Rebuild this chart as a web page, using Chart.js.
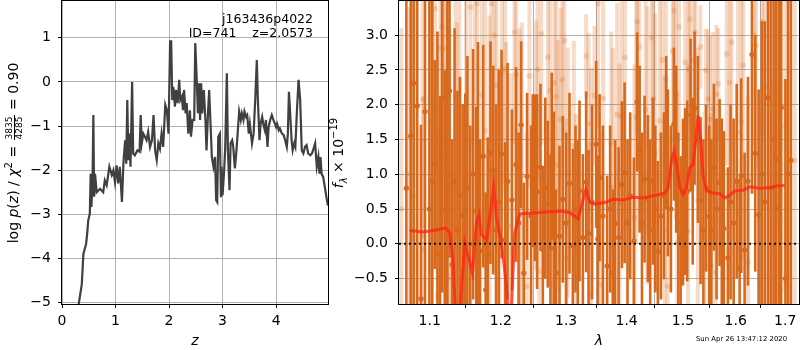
<!DOCTYPE html>
<html><head><meta charset="utf-8">
<script src="https://cdn.jsdelivr.net/npm/chart.js"></script>
<style>
html,body{margin:0;padding:0;background:#fff;}
#wrap{position:relative;width:800px;height:350px;overflow:hidden;font-family:"DejaVu Sans",sans-serif;color:#000;}
canvas{position:absolute;top:0;}
.t{position:absolute;white-space:pre;line-height:1;}
.rbox{position:absolute;width:300px;height:20px;line-height:20px;text-align:center;white-space:pre;transform:rotate(-90deg);transform-origin:150px 10px;}
.ctr{transform:translate(-50%,-50%);}
.frac{display:inline-flex;flex-direction:column;align-items:center;vertical-align:middle;font-size:9px;line-height:1;margin:0 1px;}
.frac span:first-child{border-bottom:1px solid #000;padding:0 1px;}
sub,sup{font-size:10px;line-height:0;}
</style></head>
<body><div id="wrap">
<canvas id="c1" width="340" height="350" style="left:0"></canvas>
<canvas id="c2" width="460" height="350" style="left:340px"></canvas>
<div class="t" style="right:487px;top:13px;font-size:12.5px;">j163436p4022</div>
<div class="t" style="right:487px;top:27px;font-size:12.5px;">ID=741    z=2.0573</div>
<div class="rbox" style="left:-137px;top:143px;font-size:14px;">log <i>p</i>(<i>z</i>) / <i>χ</i><sup>2</sup> = <span class="frac"><span>3835</span><span>4285</span></span> = 0.90</div>
<div class="rbox" style="left:188px;top:143px;font-size:14px;"><i>f</i><sub><i>λ</i></sub> × 10<sup>−19</sup></div>
<div class="t ctr" style="left:195px;top:340px;font-size:14px;"><i>z</i></div>
<div class="t ctr" style="left:599px;top:340px;font-size:14px;"><i>λ</i></div>
<div class="t" style="left:696px;top:336px;font-size:6.9px;">Sun Apr 26 13:47:12 2020</div>
</div>
<script>
// ---- left panel: redshift probability ----
const zGrid = [0.28,0.31,0.37,0.40,0.45,0.47,0.49,0.52,0.536,0.55,0.57,0.586,0.60,0.617,0.648,0.71,0.77,0.80,0.835,0.885,0.93,0.96,0.99,1.02,1.05,1.08,1.12,1.15,1.18,1.20,1.22,1.24,1.26,1.28,1.31,1.33,1.36,1.41,1.45,1.47,1.49,1.52,1.55,1.58,1.61,1.645,1.68,1.71,1.74,1.77,1.80,1.83,1.86,1.89,1.93,1.96,1.99,2.02,2.04,2.06,2.08,2.11,2.13,2.16,2.19,2.21,2.24,2.26,2.28,2.31,2.33,2.36,2.39,2.41,2.44,2.47,2.49,2.52,2.54,2.56,2.58,2.60,2.62,2.65,2.68,2.70,2.73,2.75,2.78,2.80,2.83,2.86,2.88,2.90,2.92,2.95,2.97,2.98,3.00,3.03,3.05,3.08,3.10,3.13,3.15,3.18,3.20,3.23,3.26,3.29,3.31,3.34,3.36,3.39,3.41,3.44,3.46,3.49,3.51,3.55,3.58,3.61,3.64,3.66,3.69,3.71,3.74,3.76,3.79,3.81,3.84,3.86,3.89,3.92,3.95,3.98,4.00,4.02,4.05,4.07,4.11,4.14,4.17,4.20,4.22,4.24,4.26,4.29,4.31,4.34,4.36,4.39,4.42,4.45,4.48,4.51,4.54,4.57,4.60,4.64,4.67,4.70,4.73,4.76,4.79,4.81,4.83,4.85,4.88,4.92,4.95,4.97];
const logP = [-5.6,-5.05,-4.58,-3.89,-3.67,-3.44,-3.14,-2.98,-2.08,-2.83,-2.23,-0.75,-2.6,-2.08,-2.5,-2.42,-2.5,-2.23,-2.34,-1.92,-2.11,-2.0,-2.27,-1.89,-2.3,-1.92,-2.72,-1.77,-1.32,-1.85,-0.41,-1.77,-1.17,-1.92,0.0,-1.62,-1.66,-1.55,-1.58,-0.75,-1.39,-1.17,-1.24,-1.32,-1.13,-1.47,-1.32,-0.75,-1.55,-1.77,-1.39,-1.51,-1.17,-1.47,-0.52,-0.64,-1.17,0.92,0.92,-0.41,-0.11,-0.56,-0.18,-0.48,0.05,-0.41,-0.33,-0.64,-0.18,-0.71,-0.48,-1.17,-0.64,-1.24,-0.86,-0.86,0.88,-0.03,-0.71,-0.03,-0.86,-0.03,-0.71,-0.18,-0.86,-1.55,-0.64,-0.18,-1.09,-1.70,-1.92,-1.70,-2.68,-2.72,-1.24,-1.17,-2.61,-1.92,-2.57,-2.0,-1.47,0.2,-1.55,-2.45,-1.39,-1.32,-1.47,-1.96,-1.55,-1.02,-0.67,-0.86,-0.71,-0.86,-0.67,-0.79,-0.75,-1.17,-0.95,-1.39,-1.17,-0.41,0.5,-0.41,-1.32,-0.95,-0.79,-0.95,-1.09,-0.86,-1.47,-1.02,-0.86,-0.75,-0.86,-0.95,-1.02,-0.95,-1.09,-1.05,-1.17,-1.20,-1.32,-1.47,-1.17,-0.22,-0.64,-1.32,-1.55,-1.39,-1.47,-0.64,0.05,-0.41,-1.55,-1.62,-1.47,-1.43,-1.62,-1.66,-1.62,-1.51,-1.39,-1.92,-1.70,-2.08,-1.70,-2.08,-2.15,-2.45,-2.68,-2.80];
const leftXTicks = [0,1,2,3,4];
const leftYTicks = [-5,-4,-3,-2,-1,0,1];

// ---- right panel: spectrum ----
const darkWave = [1.0690,1.0747,1.0786,1.0833,1.0883,1.0937,1.0996,1.1035,1.1068,1.1105,1.1140,1.1170,1.1205,1.1240,1.1270,1.1305,1.1340,1.1380,1.1415,1.1453,1.1490,1.1520,1.1560,1.1600,1.1645,1.1670,1.1700,1.1745,1.1780,1.1810,1.1850,1.1890,1.1930,1.1970,1.2012,1.2064,1.2100,1.2166,1.2227,1.2265,1.2303,1.2343,1.2393,1.2454,1.2480,1.2515,1.2546,1.2598,1.2634,1.2672,1.2711,1.2753,1.2773,1.2805,1.2841,1.2895,1.2947,1.3000,1.3054,1.3107,1.3150,1.3188,1.3215,1.3269,1.3323,1.3362,1.3420,1.3488,1.3515,1.3543,1.3600,1.3670,1.3720,1.3766,1.3805,1.3863,1.3919,1.3965,1.4015,1.4061,1.4125,1.4182,1.4224,1.4265,1.4311,1.4369,1.4410,1.4457,1.4500,1.4546,1.4600,1.4654,1.4695,1.4725,1.4780,1.4834,1.4876,1.4915,1.4957,1.5000,1.5041,1.5078,1.5141,1.5180,1.5215,1.5277,1.5327,1.5380,1.5430,1.5490,1.5530,1.5579,1.5630,1.5688,1.5730,1.5770,1.5848,1.5900,1.5960,1.6020,1.6077,1.6109,1.6176,1.6242,1.6322,1.6388,1.6456,1.6520,1.6580,1.6643,1.6700,1.6760,1.6813,1.6870,1.6917,1.7005,1.7060,1.7119];
const darkFlux = [0.8,1.55,2.31,1.98,-0.79,1.9,0.5,0.9,1.14,-0.15,-0.48,2.1,0.49,1.0,2.2,-0.3,0.9,0.2,0.7,0.41,0.46,0.8,0.0,1.0,0.47,0.9,-0.1,1.26,-0.66,-0.17,1.31,1.06,0.2,0.6,1.29,0.06,0.9,0.63,1.14,0.3,1.71,-0.42,0.97,0.4,1.05,0.95,0.75,1.1,-0.08,0.8,0.57,-0.06,1.26,0.5,-0.42,0.11,0.64,0.3,0.87,-0.03,0.5,0.29,0.76,0.09,0.89,0.15,0.6,1.43,0.07,0.95,0.4,-0.32,0.5,-0.42,0.29,0.09,0.85,1.02,0.3,0.69,0.04,2.04,1.36,0.3,0.93,0.65,0.2,0.9,0.5,-0.11,0.4,0.69,1.6,1.02,0.5,1.72,1.36,0.3,0.06,0.6,0.75,0.76,1.85,0.9,1.95,1.5,0.62,0.2,0.8,0.4,0.2,1.1,0.5,0.88,0.4,0.22,-0.2,0.6,0.3,0.9,-0.36,0.98,-0.09,0.9,2.72,1.3,0.42,1.0,0.6,2.1,0.8,1.5,1.22,0.5,1.96,-0.5,1.0,1.2];
const darkErr = [6,6,6,6,2.5,6,6,2.6,1.5,3.2,2.6,2.8,2.0,2.6,2.4,1.8,2.2,2.0,1.7,1.6,1.7,1.9,1.7,1.8,1.5,2.0,1.6,1.6,1.4,1.7,1.6,1.5,1.8,1.9,1.5,1.4,1.7,1.3,1.4,1.3,1.2,1.3,1.2,1.3,1.1,1.2,1.4,1.2,1.2,1.3,1.2,1.3,1.2,1.4,1.2,1.3,1.2,1.3,1.3,1.4,1.2,1.2,1.3,1.2,1.3,1.2,1.4,1.2,1.2,1.2,1.3,1.3,1.2,1.2,1.2,1.3,1.2,1.3,1.2,1.2,1.2,1.0,1.2,1.3,1.2,1.2,1.3,1.2,1.2,1.3,1.2,1.2,1.1,1.2,1.2,1.1,1.2,1.3,1.2,1.2,1.2,1.3,1.1,1.2,1.1,1.2,1.2,1.3,1.2,1.3,1.3,1.2,1.3,1.2,1.4,1.4,1.3,1.4,1.5,1.4,1.3,1.4,1.4,1.5,2.0,1.7,1.8,2.2,2.6,3.0,3.2,6,6,6,6,2.87,6,6];

const lightWave = [1.0624,1.0734,1.0787,1.0906,1.0919,1.1009,1.1072,1.1108,1.1146,1.1168,1.1187,1.1218,1.1245,1.1269,1.1352,1.1374,1.1408,1.1500,1.1563,1.1628,1.1657,1.1724,1.1771,1.1835,1.1864,1.1908,1.1937,1.1981,1.2019,1.2063,1.2078,1.2153,1.2204,1.2228,1.2278,1.2313,1.2389,1.2429,1.2532,1.2553,1.2580,1.2610,1.2712,1.2748,1.2775,1.2815,1.2846,1.2869,1.2913,1.2940,1.2972,1.3003,1.3027,1.3123,1.3155,1.3322,1.3362,1.3380,1.3404,1.3460,1.3520,1.3565,1.3603,1.3738,1.3766,1.3838,1.3879,1.3913,1.3970,1.4134,1.4165,1.4183,1.4218,1.4330,1.4362,1.4436,1.4464,1.4494,1.4578,1.4625,1.4668,1.4691,1.4718,1.4812,1.4835,1.4872,1.4896,1.4927,1.5042,1.5092,1.5105,1.5127,1.5201,1.5229,1.5276,1.5323,1.5402,1.5427,1.5470,1.5497,1.5522,1.5560,1.5608,1.5627,1.5662,1.5825,1.5883,1.5920,1.6044,1.6110,1.6149,1.6241,1.6368,1.6402,1.6476,1.6529,1.6570,1.6747,1.6856,1.7001,1.7200];
const lightFlux = [0.5,1.0,0.69,2.08,-0.08,1.76,3.38,-0.75,2.81,3.12,2.81,1.30,-0.5,0.5,2.12,0.78,1.76,1.7,3.40,1.6,3.45,2.14,1.63,1.08,3.45,3.0,2.28,0.13,2.45,2.52,0.9,0.25,3.04,2.43,1.1,0.98,-0.61,2.41,1.41,2.51,-0.39,3.02,2.68,2.2,-0.58,2.31,2.12,1.13,1.79,2.36,2.92,-0.2,1.02,1.42,-0.13,2.70,1.73,-0.73,0.33,2.13,3.45,-0.59,2.09,1.45,0.81,1.86,0.59,1.83,2.68,0.38,1.82,3.19,2.83,1.93,1.41,2.96,2.08,1.31,1.77,2.64,0.21,2.37,-0.61,2.77,3.35,2.13,0.01,3.12,2.61,0.18,2.51,3.23,2.63,3.04,0.62,2.83,-0.3,2.49,2.08,1.79,-0.32,1.94,-0.41,2.15,2.30,2.73,2.32,2.9,1.6,1.75,2.57,-0.27,3.0,2.85,-0.51,3.19,2.27,-0.06,2.22,1.7,1.2];
const lightErr = [2.6,2.4,2.8,2.0,2.2,2.2,2.2,2.4,2.0,2.2,1.8,2.2,2.4,2.6,2.0,2.4,2.0,2.2,2.0,2.0,2.2,1.8,2.0,2.2,2.0,1.8,1.8,2.4,1.6,1.8,2.0,2.2,1.6,1.8,2.0,2.2,2.2,1.6,1.8,1.6,2.4,1.6,1.6,1.4,2.2,1.6,1.4,1.8,1.6,1.4,1.4,2.0,1.8,1.5,2.0,0.6,1.3,2.2,2.2,1.0,1.8,2.2,1.6,1.6,2.0,1.6,2.0,1.8,1.6,2.2,1.8,1.6,1.8,1.8,2.0,1.6,1.8,2.0,2.0,1.8,2.2,1.8,2.2,1.6,1.6,1.8,2.2,1.6,1.8,2.4,1.8,1.6,1.8,1.6,2.2,0.6,2.2,0.6,1.0,1.2,2.2,1.1,2.2,1.0,0.8,1.6,1.8,1.6,2.0,2.0,1.8,2.4,1.6,1.8,2.4,1.6,1.8,2.4,2.0,2.4,2.8];

const modelWave = [1.0734,1.0910,1.1091,1.1218,1.1273,1.1319,1.1375,1.1482,1.1591,1.1648,1.1685,1.1719,1.1791,1.1839,1.1897,1.1937,1.2010,1.2084,1.2135,1.2207,1.2282,1.2587,1.2899,1.3058,1.3192,1.3247,1.3317,1.3382,1.3464,1.3659,1.3770,1.3940,1.4111,1.4285,1.4522,1.4670,1.4730,1.4791,1.4839,1.4882,1.4943,1.5003,1.5066,1.5127,1.5188,1.5239,1.5282,1.5327,1.5375,1.5440,1.5565,1.5693,1.5789,1.5853,1.5984,1.6147,1.6280,1.6481,1.6684,1.6822,1.6994];
const modelFlux = [0.19,0.17,0.20,0.23,0.16,-0.22,-1.6,0.02,-0.42,0.30,0.42,0.14,0.05,0.37,0.83,0.37,0.02,-0.62,-1.4,0.16,0.43,0.45,0.47,0.45,0.36,0.55,0.78,0.60,0.57,0.60,0.64,0.63,0.67,0.66,0.70,0.73,0.81,1.2,1.33,1.14,0.81,0.71,0.81,1.1,1.14,1.5,1.84,1.5,0.97,0.76,0.73,0.72,0.66,0.68,0.76,0.77,0.82,0.80,0.81,0.83,0.84];

const lamRange = [1.0594, 1.729];
const fluxRange = [-0.865, 3.49];
const rightXTicks = [1.1,1.2,1.3,1.4,1.5,1.6,1.7];
const rightYTicks = [-0.5,0.0,0.5,1.0,1.5,2.0,2.5,3.0];

const ORANGE = '#d8691c';
const ORANGE_L = 'rgba(216,105,28,0.24)';
const GRID = '#b0b0b0';
const fmtMinus = s => s.replace('-', '\u2212');

const frame = {id:'frame', afterDraw(chart){
  const a = chart.chartArea, c = chart.ctx;
  c.save(); c.strokeStyle = '#000'; c.lineWidth = 1;
  c.strokeRect(Math.round(a.left)-0.5, Math.round(a.top)-0.5, Math.round(a.right-a.left)+1, Math.round(a.bottom-a.top)+1);
  c.restore();
}};

function axisCommon(extra){
  return Object.assign({
    grid:{color:GRID, lineWidth:1, drawTicks:true, tickLength:4, tickColor:'#000', tickWidth:1},
    border:{display:false},
  }, extra);
}
const tickFont = {family:'DejaVu Sans', size:14};
const fitX = s => { s.height = 46; s.paddingLeft = 0; s.paddingRight = 0; s.paddingTop = 0; s.paddingBottom = 0; };
const fitY = w => s => { s.width = w; s.paddingTop = 0; s.paddingBottom = 0; s.paddingLeft = 0; s.paddingRight = 0; };

Chart.defaults.font.family = 'DejaVu Sans';
Chart.defaults.color = '#000';

new Chart(document.getElementById('c1'), {
  type:'scatter',
  data:{datasets:[{
    type:'line',
    data: zGrid.map((z,i)=>({x:z, y:logP[i]})),
    borderColor:'#404040', borderWidth:2.2, pointRadius:0, tension:0, clip:0
  }]},
  options:{
    responsive:false, animation:false, events:[], devicePixelRatio:1,
    layout:{autoPadding:false, padding:{left:0, top:1, right:12, bottom:0}},
    plugins:{legend:{display:false}, tooltip:{enabled:false}},
    scales:{
      x: axisCommon({type:'linear', min:0, max:4.97,
        afterBuildTicks: s => { s.ticks = leftXTicks.map(v=>({value:v})); },
        afterFit: fitX,
        ticks:{font:tickFont, padding:5, maxRotation:0, callback: v => String(v)}}),
      y: axisCommon({type:'linear', min:-5.03, max:1.835,
        afterBuildTicks: s => { s.ticks = leftYTicks.map(v=>({value:v})); },
        afterFit: fitY(62),
        ticks:{font:tickFont, padding:7, callback: v => fmtMinus(String(v))}})
    }
  },
  plugins:[frame]
});

const darkBars = darkWave.map((w,i)=>({x:w, y:[darkFlux[i]-darkErr[i], darkFlux[i]+darkErr[i]]}));
const lightBars = lightWave.map((w,i)=>({x:w, y:[lightFlux[i]-lightErr[i], lightFlux[i]+lightErr[i]]}));

new Chart(document.getElementById('c2'), {
  type:'scatter',
  data:{datasets:[
    {type:'line', data: lamRange.map(x=>({x:x, y:0})), borderColor:'#111', borderWidth:2, borderDash:[2,3], pointRadius:0, order:0, clip:0},
    {type:'line', data: modelWave.map((w,i)=>({x:w, y:modelFlux[i]})), borderColor:'rgba(255,35,20,0.75)', borderWidth:3, pointRadius:0, tension:0, order:1, clip:0},
    {type:'scatter', data: darkWave.map((w,i)=>({x:w, y:darkFlux[i]})), pointRadius:2.6, backgroundColor:ORANGE, pointBackgroundColor:ORANGE, borderWidth:0, pointBorderWidth:0, order:2, clip:0},
    {type:'bar', data: darkBars, backgroundColor:ORANGE, barThickness:2.6, grouped:false, borderWidth:0, inflateAmount:0, order:3, clip:0},
    {type:'scatter', data: lightWave.map((w,i)=>({x:w, y:lightFlux[i]})), pointRadius:2.8, backgroundColor:ORANGE_L, pointBackgroundColor:ORANGE_L, borderWidth:0, pointBorderWidth:0, order:4, clip:0},
    {type:'bar', data: lightBars, backgroundColor:ORANGE_L, barThickness:4, grouped:false, borderWidth:0, inflateAmount:0, order:5, clip:0}
  ]},
  options:{
    responsive:false, animation:false, events:[], devicePixelRatio:1,
    layout:{autoPadding:false, padding:{left:0, top:1, right:1, bottom:0}},
    plugins:{legend:{display:false}, tooltip:{enabled:false}},
    scales:{
      x: axisCommon({type:'logarithmic', min:lamRange[0], max:lamRange[1], offset:false,
        afterBuildTicks: s => { s.ticks = rightXTicks.map(v=>({value:v})); },
        afterFit: fitX,
        ticks:{font:tickFont, padding:5, maxRotation:0, autoSkip:false, callback: v => Number(v).toFixed(1)}}),
      y: axisCommon({type:'linear', min:fluxRange[0], max:fluxRange[1],
        afterBuildTicks: s => { s.ticks = rightYTicks.map(v=>({value:v})); },
        afterFit: fitY(59),
        ticks:{font:tickFont, padding:7, callback: v => fmtMinus(Number(v).toFixed(1))}})
    }
  },
  plugins:[frame]
});
</script>
</body></html>
